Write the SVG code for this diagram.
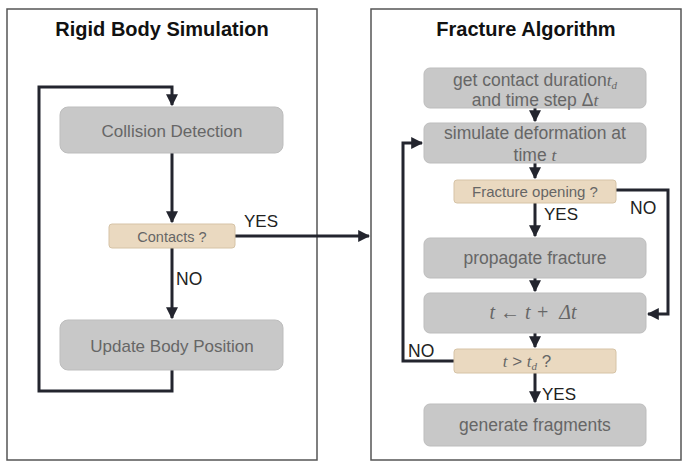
<svg xmlns="http://www.w3.org/2000/svg" width="686" height="462" viewBox="0 0 686 462">
<defs>
<style>
.panel{fill:#fff;stroke:#555;stroke-width:1.5}
.box{fill:#c8c8c8;stroke:#bdbdbd;stroke-width:1}
.dec{fill:#ead9c0;stroke:#d6c3a6;stroke-width:1}
.t{font-family:"Liberation Sans",Arial,sans-serif;fill:#666;text-anchor:middle}
.m{font-family:"Liberation Serif","Times New Roman",serif;font-style:italic}
.title{font-family:"Liberation Sans",Arial,sans-serif;font-weight:bold;font-size:20px;fill:#111;text-anchor:middle}
.lbl{font-family:"Liberation Sans",Arial,sans-serif;fill:#222}
.c{fill:none;stroke:#23252e;stroke-width:3}
</style>
<marker id="ah" viewBox="0 0 10 10" refX="9" refY="5" markerWidth="4" markerHeight="4" markerUnits="strokeWidth" orient="auto">
<path d="M0,0 L10,5 L0,10 z" fill="#23252e"/>
</marker>
</defs>
<rect width="686" height="462" fill="#fff"/>
<g id="panel-left">
<rect class="panel" x="7" y="9" width="310" height="451"/>
<text class="title" x="162" y="36">Rigid Body Simulation</text>
</g>
<g id="panel-right">
<rect class="panel" x="371" y="9" width="310" height="451"/>
<text class="title" x="526" y="36">Fracture Algorithm</text>
</g>
<g id="connectors">
<path class="c" d="M172,370 V391 H39 V87 H172 V105" marker-end="url(#ah)"/>
<path class="c" d="M172,153 V222" marker-end="url(#ah)"/>
<path class="c" d="M172,248 V318" marker-end="url(#ah)"/>
<path class="c" d="M235,236 H369" marker-end="url(#ah)"/>
<path class="c" d="M535,108 V121" marker-end="url(#ah)"/>
<path class="c" d="M535,163 V178" marker-end="url(#ah)"/>
<path class="c" d="M535,203 V236" marker-end="url(#ah)"/>
<path class="c" d="M616,190 H668 V314 H648" marker-end="url(#ah)"/>
<path class="c" d="M535,278 V291" marker-end="url(#ah)"/>
<path class="c" d="M535,333 V347" marker-end="url(#ah)"/>
<path class="c" d="M454,361 H403 V143 H422" marker-end="url(#ah)"/>
<path class="c" d="M535,373 V402" marker-end="url(#ah)"/>
<text class="lbl" x="244" y="227" font-size="17">YES</text>
<text class="lbl" x="176" y="285" font-size="17.5">NO</text>
<text class="lbl" x="630" y="214" font-size="17.5">NO</text>
<text class="lbl" x="544" y="220" font-size="17">YES</text>
<text class="lbl" x="408" y="357" font-size="17.5">NO</text>
<text class="lbl" x="542" y="400" font-size="17">YES</text>
</g>
<g id="collision-detection">
<rect class="box" x="60" y="107" width="223" height="46" rx="8"/>
<text class="t" x="172" y="137" font-size="17">Collision Detection</text>
</g>
<g id="contacts">
<rect class="dec" x="109" y="224" width="126" height="24" rx="3"/>
<text class="t" x="172" y="241.5" font-size="14.5">Contacts ?</text>
</g>
<g id="update-body-position">
<rect class="box" x="60" y="320" width="223" height="50" rx="8"/>
<text class="t" x="172" y="352" font-size="17">Update Body Position</text>
</g>
<g id="get-contact-duration">
<rect class="box" x="424" y="68" width="222" height="40" rx="6"/>
<text class="t" x="535" y="86" font-size="17.5">get contact duration<tspan class="m">t</tspan><tspan class="m" font-size="11" dy="3">d</tspan></text>
<text class="t" x="535" y="106" font-size="17.5">and time step Δ<tspan class="m">t</tspan></text>
</g>
<g id="simulate-deformation">
<rect class="box" x="424" y="123" width="222" height="40" rx="6"/>
<text class="t" x="535" y="139" font-size="17.5">simulate deformation at</text>
<text class="t" x="535" y="161" font-size="17.5">time <tspan class="m">t</tspan></text>
</g>
<g id="fracture-opening">
<rect class="dec" x="454" y="180" width="162" height="23" rx="3"/>
<text class="t" x="535" y="196.5" font-size="15">Fracture opening ?</text>
</g>
<g id="propagate-fracture">
<rect class="box" x="424" y="238" width="222" height="40" rx="6"/>
<text class="t" x="535" y="264" font-size="17.5">propagate fracture</text>
</g>
<g id="time-step">
<rect class="box" x="424" y="293" width="222" height="40" rx="6"/>
<text class="t m" x="533" y="319" font-size="20" xml:space="preserve">t ← t +  Δt</text>
</g>
<g id="time-check">
<rect class="dec" x="454" y="349" width="162" height="24" rx="3"/>
<text class="t" x="527" y="366.5" font-size="17"><tspan class="m">t</tspan> &gt; <tspan class="m">t</tspan><tspan class="m" font-size="11" dy="3">d</tspan><tspan dy="-3"> ?</tspan></text>
</g>
<g id="generate-fragments">
<rect class="box" x="424" y="404" width="222" height="42" rx="6"/>
<text class="t" x="535" y="431" font-size="17.5">generate fragments</text>
</g>
</svg>
